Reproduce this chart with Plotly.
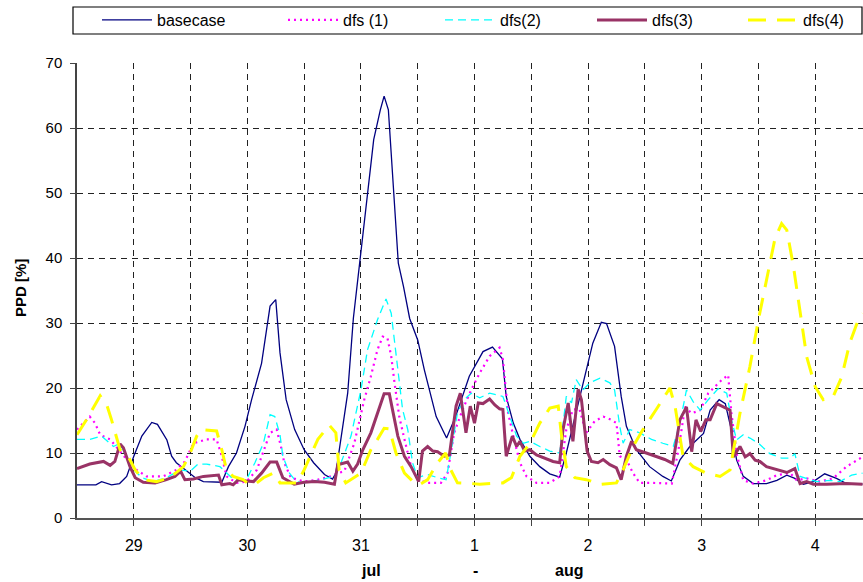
import plotly.graph_objects as go

# x in hours from start of axis (noon, 28 jul)
base_h = [0, 4, 5.2, 7.3, 9, 10.5, 12, 13.7, 15.8, 17, 19, 20, 21, 22.8, 25, 26.7, 30.6, 32, 33.7, 35.5, 36.9, 39, 40, 40.8, 42, 42.9, 44.2, 46, 48, 50, 52.3, 54, 54.7, 57.2, 58.4, 59.8, 60.9, 62.7, 64.1, 64.9, 65.8, 66.9, 67.9, 69, 70.3, 72, 73.4, 75.9, 78.1, 80, 82.9, 85.8, 87.8, 89.9, 90.7, 92.2, 93.6, 95.7, 97.8, 99.9, 102, 103.4, 105.5, 107.6, 109, 110.8, 111.9, 113.6, 115, 116.1, 118.2, 121, 123.8, 125.6, 127.4, 129.5, 132.4, 133.8, 135.7, 137, 138.3, 139.4, 140.8, 142.9, 145.7, 147.9, 150, 151.7, 153.5, 155.6, 158, 160.5, 162.6, 166]
base_v = [5.1, 5.1, 5.6, 5.1, 5.3, 6.4, 9.5, 12.6, 14.7, 14.4, 12, 9.5, 8.5, 7.4, 6.2, 5.6, 5.5, 7.9, 10, 14.1, 18.2, 23.8, 29, 32.6, 33.6, 25.4, 18.2, 13.6, 10.5, 8.5, 6.7, 6.0, 6.9, 19.2, 30.7, 39.7, 47.4, 58.2, 62.8, 64.9, 62.8, 49.9, 39.2, 35.6, 30.7, 27.4, 22.8, 15.6, 12.3, 15.6, 21.8, 25.6, 26.3, 24.5, 18.7, 14.6, 12.1, 9.5, 7.9, 6.8, 6.3, 10, 16.2, 22.8, 26.9, 30.1, 29.9, 26.4, 18.7, 14.1, 10.5, 7.9, 6.4, 5.7, 8.9, 11, 13, 16.6, 18.2, 17.6, 13.5, 8.9, 6.4, 5.3, 5.3, 5.8, 6.6, 6.1, 5.2, 5.6, 6.8, 6.1, 5.3, 5.2]

dfs1_h = [0, 2.7, 3.8, 4.9, 7, 9.1, 10.5, 12.6, 14.7, 18.2, 21, 22.8, 24.6, 27.4, 29.5, 30.6, 31.6, 33.7, 35.8, 38, 39.7, 40.8, 42.2, 43.1, 43.8, 45.2, 48, 50.9, 53.7, 55.1, 56.5, 58.6, 60.7, 62.1, 63.5, 64.6, 65.6, 66.4, 67.1, 68.1, 69.2, 70.6, 72, 74.1, 76.9, 78.3, 79.7, 81.5, 83.3, 85.1, 87.2, 89.3, 90, 90.4, 91.1, 92.2, 93.6, 95, 97.1, 99.9, 102, 103.4, 104.8, 106.2, 107.6, 109.4, 111.2, 112.9, 114, 114.7, 116.1, 117.5, 118.9, 121.7, 125.7, 127.1, 128.5, 129.9, 131.7, 133.4, 136.2, 137.6, 138.3, 139.4, 140.8, 142.9, 145.7, 147.9, 150.7, 152.1, 154.2, 157, 159.8, 162.6, 166]
dfs1_v = [13.6, 15.6, 14.6, 12.8, 12.1, 10.3, 9, 7.4, 6.4, 6.4, 7.4, 8.7, 11.5, 12.1, 12.1, 9.5, 6.4, 5.4, 5.6, 7.4, 11, 13.1, 13.6, 11, 8.5, 6.2, 5.6, 5.9, 6.4, 6.9, 7.2, 11.5, 18.2, 21.8, 25.9, 27.9, 27.7, 24.9, 20.8, 15.6, 12.1, 7.9, 5.9, 5.4, 5.4, 6.9, 13.1, 16.7, 19.7, 22.3, 24.9, 26.2, 24.4, 21.3, 16.2, 12.6, 8.5, 6.4, 5.4, 5.4, 6.4, 13.6, 16.7, 16.7, 13.1, 14.9, 15.6, 15.1, 14.6, 9.5, 9, 6.9, 5.4, 5.4, 5.3, 10.5, 17.1, 16.1, 16.6, 19.2, 21.2, 22, 16.1, 9.9, 5.8, 5.3, 5.8, 6.6, 6.9, 5.8, 6.1, 5.6, 6.1, 7.9, 9.4]

dfs2_h = [0, 2.7, 5.2, 7.7, 9.1, 10.8, 12.3, 13.7, 16.1, 18.9, 21.8, 23.9, 25.6, 27.4, 30.2, 31.6, 33, 35.8, 37.6, 39.4, 40.8, 41.8, 42.9, 43.5, 44.9, 46.3, 48, 51.6, 54.4, 55.8, 57.9, 60, 61.4, 63.5, 65.3, 66.4, 67.4, 68.8, 69.9, 70.9, 72, 74.1, 76.2, 78, 79, 80.4, 81.8, 83.3, 85.1, 87.2, 90, 91.5, 92.9, 94.3, 95.7, 97.8, 99.9, 102, 103.4, 104.5, 105.5, 106.9, 108.4, 110.5, 112.6, 113.6, 114.7, 115.4, 116.8, 118.9, 121.4, 123.8, 126, 127.4, 128.8, 130.2, 131.7, 133.4, 135.5, 137.3, 138.3, 139.4, 140.8, 142.2, 144, 146.4, 148.9, 150.7, 151.7, 152.8, 154.2, 156.3, 159.1, 161.2, 163.7, 166]
dfs2_v = [12.1, 12.1, 12.6, 11, 11.5, 8.7, 7.2, 6.2, 5.6, 6.2, 7.4, 7.2, 8.3, 8.3, 7.9, 6.9, 6, 5.9, 8.5, 11.5, 15.9, 15.6, 12.8, 9.5, 6.9, 5.6, 5.4, 5.9, 6.4, 8.5, 12.6, 19.7, 25.9, 30.5, 33.7, 31.5, 24.9, 16.7, 13.6, 8.5, 6.2, 6.7, 6.2, 5.9, 10, 16.2, 18.2, 19.2, 18.5, 19.2, 18.7, 15.6, 12.6, 11.5, 11.8, 11, 10.3, 10, 18.7, 17.7, 21.3, 19.7, 20.8, 21.5, 20.8, 19.7, 14.1, 11.5, 13.6, 13.1, 12.1, 11.5, 11, 14.6, 19.7, 17.9, 16.6, 18.2, 19.9, 19.2, 15.1, 12, 12.8, 12.3, 11.5, 9.9, 9.2, 9.2, 9.9, 6.4, 6.1, 5.6, 5.8, 5.6, 6.6, 6.9]

dfs3_h = [0, 2.7, 5.6, 7, 8, 9.1, 9.8, 11.2, 12.3, 14, 16.5, 18.9, 20.7, 21.9, 22.8, 24.6, 26.7, 29.9, 30.6, 32.3, 33, 34.1, 35.8, 37.3, 39, 40.8, 42.2, 43.5, 45.9, 48, 50.2, 52.3, 54.4, 55.1, 57.2, 58.3, 59.3, 60.4, 62.1, 63.5, 64.9, 66, 67.8, 69.2, 70.6, 72.2, 73, 74.1, 75.2, 76.2, 77.6, 78.7, 80.1, 81, 82.2, 83.1, 84, 84.8, 85.8, 87.2, 88.3, 89.3, 90, 90.7, 92, 92.9, 93.6, 94.6, 95.7, 97.1, 98.8, 100.6, 102, 102.7, 103.8, 104.8, 105.9, 106.6, 107.8, 108.7, 110.1, 111.2, 112.6, 114, 115, 116.1, 117.2, 118.2, 120.3, 122.4, 124.2, 125.9, 127.4, 128.8, 129.9, 130.8, 131.8, 132.9, 133.8, 135.2, 137, 138, 138.7, 140.1, 141.2, 142.2, 143.3, 144.3, 145.7, 147.9, 150, 151.7, 152.8, 154.2, 155.6, 158.4, 162.6, 166]
dfs3_v = [7.6, 8.3, 8.7, 8.1, 8.7, 11.4, 10.8, 7.9, 6.2, 5.5, 5.4, 5.9, 6.4, 7.2, 5.9, 6, 6.4, 6.6, 5.1, 5.3, 5.1, 5.9, 5.7, 5.6, 6.9, 8.6, 8.6, 6.2, 5.2, 5.5, 5.6, 5.5, 5.2, 8.2, 8.6, 7.2, 8.3, 10.5, 13.1, 16.2, 19.1, 19.1, 12.6, 9.5, 7.9, 5.6, 10.3, 11, 10.3, 10.2, 9.5, 9.7, 17.2, 19.2, 13.1, 17.2, 14.6, 17.7, 17.6, 18.3, 17.4, 16.8, 16.7, 9.5, 12.6, 11, 11.8, 10.3, 10.5, 9.7, 9.2, 8.7, 8.5, 13.6, 17.7, 11.8, 19.8, 18.2, 10.3, 8.7, 8.5, 9, 8.2, 7.7, 5.9, 9.5, 11.8, 10.5, 10, 9.5, 9, 8.4, 15.1, 17.1, 10.2, 15.1, 13.3, 15.1, 15.1, 17.6, 16.9, 16.6, 9.4, 11, 9.4, 9.9, 8.9, 8.7, 7.9, 7.4, 7, 7.6, 5.3, 5.6, 5.2, 5.2, 5.3, 5.2]

dfs4_h = [0, 2, 4.9, 6.3, 7.3, 9.1, 10.8, 12.3, 14, 16.8, 19.6, 22.5, 23.9, 25.3, 26.3, 29.5, 30.6, 31.6, 33, 35.1, 36.5, 38, 39.4, 41.5, 42.9, 43.8, 46.6, 48, 50.9, 53.3, 54.7, 55.4, 56.8, 60, 62.1, 63.5, 64.9, 66, 67.4, 69.2, 71.3, 72.3, 74.1, 76.2, 77.9, 79, 80.4, 83.3, 85.1, 90, 91.8, 93.6, 95.7, 97.8, 99.9, 101.7, 102.4, 103.4, 105.2, 107.6, 110.8, 114, 115.4, 117.5, 119.6, 122.4, 125.3, 126.4, 128.1, 130.2, 133, 135.9, 138, 140.1, 142.2, 144, 145.7, 147.5, 148.9, 150, 151.4, 152.8, 154.2, 156, 157.7, 159.8, 161.6, 163.3, 165.1, 166]
dfs4_v = [12.8, 15.1, 18.8, 17.4, 15.1, 10.5, 9.5, 7.4, 5.9, 5.6, 6.2, 7.9, 10, 12.6, 13.6, 13.4, 10.5, 7.4, 6.4, 5.9, 5.1, 5.4, 6.2, 6.9, 5.4, 5.4, 5.4, 7.4, 12.1, 14.3, 13.1, 7.4, 5.4, 6.9, 10.5, 12.1, 13.8, 13.7, 10, 6.9, 5.4, 5.1, 5.9, 8.5, 10, 7.4, 5.4, 5.3, 5.2, 5.4, 6.2, 9.5, 11.5, 14.6, 16.9, 17.2, 12.6, 7.9, 6.2, 5.9, 5.2, 5.4, 7.4, 11, 13.6, 16.7, 20, 17.1, 9.4, 7.9, 6.9, 6.4, 7.4, 16.1, 23.3, 30.5, 36.6, 43, 45.3, 44.3, 38.7, 31.5, 24.8, 20.2, 18.2, 18.7, 21.7, 26.9, 30.5, 31.5]

tick_hours = [12, 24, 36, 48, 60, 72, 84, 96, 108, 120, 132, 144, 156]
tick_text = ["29", "", "30", "", "31", "", "1", "", "2", "", "3", "", "4"]
series_names = ["basecase", "dfs (1)", "dfs(2)", "dfs(3)", "dfs(4)"]

FONT = "Liberation Sans, Arial, sans-serif"

fig = go.Figure()
styles = [
    dict(color="#000080", width=1.3, dash="solid"),
    dict(color="#FF00FF", width=2.2, dash="2px,4px"),
    dict(color="#00FFFF", width=1.3, dash="8px,5px"),
    dict(color="#993366", width=3, dash="solid"),
    dict(color="#FFFF00", width=3, dash="18px,11px"),
]
data = [(base_h, base_v), (dfs1_h, dfs1_v), (dfs2_h, dfs2_v), (dfs3_h, dfs3_v), (dfs4_h, dfs4_v)]
legend_x_px = [97, 283, 440, 592, 743]
W, H = 863, 582
L, R, T, B = 77, 0, 63, 64
pw = W - L - R
ph = H - T - B
for i, ((hx, vy), st, nm) in enumerate(zip(data, styles, series_names)):
    lg = "legend" if i == 0 else f"legend{i+1}"
    fig.add_trace(go.Scatter(x=hx, y=vy, mode="lines", name=nm, line=st, legend=lg))

legends = {}
for i, px in enumerate(legend_x_px):
    key = "legend" if i == 0 else f"legend{i+1}"
    legends[key] = dict(x=(px - L) / pw, y=(H - B - 3) / ph, xanchor="left", yanchor="top",
                        bgcolor="rgba(0,0,0,0)", borderwidth=0, itemwidth=50,
                        font=dict(family=FONT, size=16, color="#000"))

fig.update_layout(
    width=W, height=H,
    margin=dict(l=L, r=R, t=T, b=B, autoexpand=False),
    paper_bgcolor="white", plot_bgcolor="white",
    showlegend=True,
    **legends,
    xaxis=dict(range=[0, 166.1], tickvals=tick_hours, ticktext=tick_text,
               showgrid=True, gridcolor="#222", gridwidth=1, griddash="6px,5px",
               showline=True, linecolor="#555", linewidth=2, ticks="outside", ticklen=6,
               tickcolor="#444", zeroline=False, ticklabelstandoff=6, automargin=False,
               tickfont=dict(family=FONT, size=16, color="#000")),
    yaxis=dict(range=[0, 70], dtick=10, showgrid=True, gridcolor="#222", gridwidth=1,
               griddash="6px,5px", showline=True, linecolor="#444", linewidth=1.5,
               ticks="outside", ticklen=5, tickcolor="#444", zeroline=False,
               ticklabelstandoff=5, automargin=False,
               tickfont=dict(family=FONT, size=15, color="#000")),
    shapes=[dict(type="rect", xref="paper", yref="paper",
                 x0=(73 - L) / pw, x1=(862 - L) / pw,
                 y0=(H - B - 34) / ph, y1=(H - B - 7) / ph,
                 line=dict(color="#000", width=1.2), fillcolor="rgba(0,0,0,0)")],
    annotations=[
        dict(text="<b>PPD [%]</b>", textangle=-90, xref="paper", yref="paper",
             x=(20 - L) / pw, y=(H - B - 288) / ph, xanchor="center", yanchor="middle",
             showarrow=False, font=dict(family=FONT, size=15, color="#000")),
        dict(text="<b>jul</b>", xref="paper", yref="paper", x=(371 - L) / pw,
             y=(H - B - 570) / ph, xanchor="center", yanchor="middle", showarrow=False,
             font=dict(family=FONT, size=16, color="#000")),
        dict(text="<b>-</b>", xref="paper", yref="paper", x=(475 - L) / pw,
             y=(H - B - 570) / ph, xanchor="center", yanchor="middle", showarrow=False,
             font=dict(family=FONT, size=16, color="#000")),
        dict(text="<b>aug</b>", xref="paper", yref="paper", x=(569 - L) / pw,
             y=(H - B - 570) / ph, xanchor="center", yanchor="middle", showarrow=False,
             font=dict(family=FONT, size=16, color="#000")),
    ],
)

fig.write_html("out.html", config={"displayModeBar": False},
               post_script="document.body.style.margin='0';document.body.style.overflow='hidden';")
